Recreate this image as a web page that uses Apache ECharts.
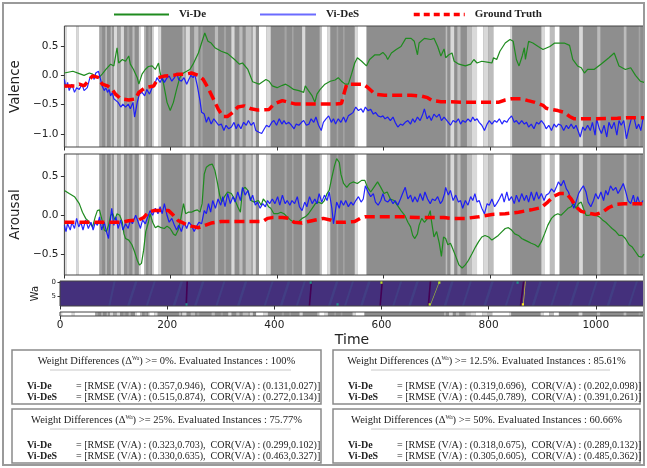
<!DOCTYPE html>
<html><head><meta charset="utf-8">
<script src="https://cdn.jsdelivr.net/npm/echarts@6/dist/echarts.min.js"></script>
<style>html,body{margin:0;padding:0;background:#fff}#c{width:647px;height:468px}</style>
</head><body><div id="c"></div>
<script>
const T_MIN = 0, T_MAX = 1090;
const timeTicks = [0, 200, 400, 600, 800, 1000];
const valenceTicks = [-1.0, -0.5, 0.0, 0.5];
const arousalTicks = [-0.5, 0.0, 0.5];
const waTicks = [0, 5];
const WA_ROWS = 9;

// Valence
const valDe = [[0,0.04],[16,0.07],[28,0.03],[37,0.0],[47,0.04],[53,0.02],[59,-0.01],[65,-0.04],[71,0.02],[78,0.10],[87,0.19],[93,0.16],[99,0.47],[102,0.21],[109,0.27],[115,0.24],[121,0.33],[124,0.19],[130,0.10],[137,-0.04],[140,-0.15],[146,0.02],[152,0.10],[158,0.15],[165,0.16],[171,0.10],[177,0.21],[180,0.04],[186,-0.12],[193,-0.46],[199,-0.60],[205,-0.46],[211,-0.24],[217,-0.04],[224,0.04],[230,0.07],[236,0.10],[242,0.19],[252,0.38],[258,0.55],[264,0.72],[270,0.58],[276,0.55],[283,0.47],[295,0.41],[307,0.37],[320,0.27],[329,0.19],[335,0.21],[345,0.10],[354,-0.11],[366,-0.15],[379,-0.07],[385,-0.10],[391,-0.18],[400,-0.21],[410,-0.17],[416,-0.15],[422,-0.18],[431,-0.24],[441,-0.26],[450,-0.29],[453,-0.18],[459,-0.26],[466,-0.35],[471,-0.46],[475,-0.32],[481,-0.24],[490,-0.15],[500,-0.10],[509,-0.08],[515,-0.04],[521,-0.10],[528,-0.15],[534,-0.15],[540,0.02],[546,0.21],[551,0.30],[559,0.24],[568,0.16],[574,0.27],[584,0.35],[593,0.35],[599,0.39],[605,0.33],[608,0.27],[615,0.38],[624,0.44],[633,0.49],[642,0.63],[652,0.63],[658,0.58],[664,0.35],[667,0.55],[677,0.63],[689,0.61],[695,0.63],[702,0.49],[708,0.33],[714,0.45],[717,0.30],[723,0.35],[729,0.38],[733,0.24],[742,0.19],[754,0.16],[764,0.19],[770,0.27],[776,0.21],[785,0.24],[798,0.22],[804,0.21],[807,0.30],[813,0.27],[819,0.41],[829,0.55],[838,0.61],[844,0.58],[850,0.27],[855,0.16],[861,0.33],[865,0.47],[867,0.27],[873,0.58],[881,0.55],[891,0.49],[900,0.44],[913,0.49],[922,0.55],[940,0.55],[950,0.51],[956,0.27],[965,0.16],[972,0.13],[978,0.04],[984,0.10],[996,0.10],[1009,0.19],[1024,0.30],[1034,0.38],[1043,0.16],[1055,0.10],[1065,0.13],[1074,0.0],[1083,-0.10],[1090,-0.12]];
const valDeS = [[0,-0.07],[3,-0.21],[6,-0.12],[9,-0.26],[14,-0.15],[19,-0.29],[23,-0.21],[28,-0.24],[33,-0.15],[37,-0.26],[43,-0.21],[48,-0.04],[53,0.0],[56,-0.07],[59,0.04],[64,0.07],[68,-0.07],[71,-0.18],[75,-0.26],[78,-0.21],[81,-0.29],[84,-0.24],[87,-0.35],[90,-0.29],[93,-0.40],[96,-0.38],[101,-0.46],[106,-0.54],[110,-0.49],[115,-0.54],[120,-0.49],[124,-0.57],[129,-0.46],[132,-0.71],[137,-0.46],[141,-0.32],[146,-0.29],[151,-0.35],[155,-0.24],[160,-0.32],[165,-0.21],[170,-0.15],[174,-0.04],[177,-0.01],[180,-0.12],[184,-0.04],[188,-0.12],[193,-0.04],[197,-0.01],[202,-0.10],[207,-0.04],[211,0.04],[215,-0.07],[220,-0.10],[225,-0.04],[230,-0.15],[234,-0.07],[238,0.0],[242,-0.04],[245,0.02],[250,-0.18],[255,-0.43],[258,-0.63],[263,-0.66],[267,-0.80],[271,-0.71],[276,-0.83],[281,-0.74],[286,-0.80],[290,-0.85],[295,-0.83],[300,-0.94],[304,-0.85],[309,-0.91],[314,-0.88],[319,-0.80],[323,-0.91],[327,-0.83],[332,-0.91],[337,-0.80],[342,-0.85],[346,-0.77],[351,-0.85],[356,-0.80],[360,-0.94],[366,-0.97],[371,-0.99],[376,-0.91],[380,-0.85],[385,-0.88],[390,-0.80],[394,-0.77],[399,-0.85],[404,-0.74],[409,-0.83],[413,-0.77],[417,-0.83],[422,-0.80],[427,-0.85],[432,-0.91],[436,-0.83],[441,-0.85],[446,-0.80],[450,-0.77],[455,-0.85],[460,-0.83],[464,-0.74],[469,-0.80],[473,-0.71],[478,-0.85],[483,-0.94],[487,-0.80],[492,-0.74],[497,-0.69],[502,-0.80],[506,-0.74],[510,-0.83],[515,-0.74],[520,-0.80],[525,-0.71],[529,-0.80],[534,-0.69],[539,-0.66],[543,-0.63],[548,-0.54],[553,-0.60],[558,-0.57],[562,-0.63],[566,-0.54],[571,-0.60],[576,-0.58],[581,-0.66],[585,-0.63],[590,-0.69],[595,-0.71],[599,-0.69],[603,-0.74],[608,-0.71],[613,-0.77],[618,-0.71],[622,-0.80],[627,-0.88],[632,-0.83],[636,-0.85],[641,-0.80],[646,-0.77],[651,-0.83],[655,-0.74],[659,-0.80],[664,-0.71],[669,-0.77],[674,-0.66],[677,-0.57],[682,-0.74],[686,-0.69],[690,-0.77],[695,-0.66],[700,-0.71],[705,-0.66],[709,-0.77],[714,-0.71],[717,-0.74],[722,-0.80],[726,-0.85],[731,-0.77],[736,-0.80],[741,-0.74],[745,-0.83],[749,-0.77],[754,-0.80],[759,-0.74],[764,-0.79],[768,-0.71],[772,-0.77],[776,-0.74],[780,-0.80],[785,-0.85],[790,-0.94],[795,-0.83],[799,-0.77],[804,-0.83],[809,-0.77],[813,-0.80],[818,-0.74],[823,-0.83],[827,-0.77],[832,-0.80],[836,-0.74],[841,-0.69],[846,-0.80],[850,-0.77],[855,-0.83],[860,-0.77],[865,-0.83],[869,-0.80],[873,-0.88],[878,-0.83],[883,-0.91],[888,-0.80],[892,-0.83],[897,-0.77],[902,-0.83],[906,-0.91],[911,-0.85],[916,-0.94],[921,-0.83],[925,-0.88],[929,-0.83],[934,-0.85],[939,-0.94],[944,-0.85],[948,-0.91],[953,-0.83],[958,-0.91],[962,-0.85],[967,-0.97],[970,-1.05],[975,-0.88],[979,-0.94],[984,-0.85],[989,-0.94],[993,-0.80],[998,-1.02],[1001,-0.74],[1006,-0.91],[1010,-0.99],[1015,-0.85],[1020,-1.05],[1024,-0.80],[1029,-0.91],[1034,-0.80],[1039,-1.02],[1043,-0.77],[1047,-0.85],[1052,-0.77],[1057,-1.08],[1062,-0.88],[1066,-0.74],[1071,-0.71],[1076,-0.91],[1080,-0.83],[1084,-0.94],[1088,-0.74]];
const valGT = [[0,-0.18],[19,-0.18],[28,-0.15],[37,-0.18],[47,-0.07],[53,-0.01],[65,-0.04],[71,-0.15],[81,-0.18],[90,-0.24],[96,-0.32],[106,-0.40],[121,-0.42],[134,-0.40],[140,-0.29],[152,-0.21],[168,-0.18],[177,-0.04],[189,-0.01],[205,0.0],[214,0.02],[227,0.02],[239,0.04],[252,0.0],[261,-0.07],[270,-0.21],[280,-0.40],[289,-0.57],[298,-0.70],[307,-0.70],[317,-0.63],[326,-0.54],[338,-0.52],[351,-0.57],[363,-0.59],[385,-0.58],[394,-0.49],[410,-0.43],[422,-0.46],[435,-0.49],[453,-0.49],[478,-0.49],[503,-0.49],[521,-0.48],[528,-0.24],[531,-0.15],[546,-0.15],[562,-0.15],[571,-0.21],[584,-0.32],[602,-0.34],[627,-0.34],[652,-0.34],[670,-0.35],[683,-0.38],[692,-0.43],[708,-0.45],[726,-0.45],[754,-0.46],[791,-0.46],[816,-0.46],[829,-0.42],[841,-0.40],[860,-0.40],[872,-0.43],[885,-0.46],[900,-0.51],[906,-0.56],[916,-0.58],[928,-0.60],[940,-0.63],[950,-0.70],[959,-0.74],[996,-0.74],[1040,-0.73],[1065,-0.72],[1090,-0.72]];

// Arousal
const aroDe = [[0,0.32],[9,0.28],[19,0.24],[28,0.15],[34,0.04],[40,-0.04],[47,-0.09],[53,-0.15],[58,-0.02],[62,0.06],[66,0.07],[70,-0.04],[75,-0.19],[79,-0.21],[83,-0.13],[87,0.0],[91,0.02],[95,-0.06],[99,0.02],[104,0.0],[109,-0.09],[112,-0.24],[115,-0.30],[121,-0.32],[127,-0.38],[132,-0.47],[137,-0.58],[141,-0.64],[145,-0.62],[149,-0.45],[153,-0.21],[158,-0.09],[161,0.02],[166,-0.09],[171,-0.16],[176,-0.14],[182,-0.16],[188,-0.17],[193,-0.14],[199,-0.17],[205,-0.24],[209,-0.26],[214,-0.19],[219,-0.04],[224,0.15],[228,0.02],[233,0.04],[239,0.04],[245,0.06],[250,0.07],[255,0.04],[259,0.15],[263,0.53],[267,0.62],[273,0.65],[278,0.66],[283,0.58],[288,0.41],[292,0.26],[296,0.17],[301,0.24],[307,0.30],[314,0.28],[320,0.21],[326,0.11],[331,0.04],[335,0.34],[340,0.36],[345,0.32],[351,0.19],[357,0.17],[365,0.19],[370,0.13],[374,0.21],[379,0.17],[384,0.11],[388,0.09],[394,0.02],[401,0.02],[407,0.04],[413,0.02],[419,-0.02],[425,-0.06],[432,-0.09],[441,-0.08],[447,-0.04],[453,-0.02],[459,0.02],[466,0.09],[472,0.15],[478,0.17],[484,0.15],[489,0.19],[494,0.28],[498,0.32],[503,0.49],[508,0.64],[512,0.73],[517,0.68],[520,0.53],[525,0.41],[531,0.36],[537,0.41],[543,0.43],[551,0.41],[559,0.45],[565,0.45],[570,0.36],[576,0.30],[582,0.36],[589,0.43],[595,0.36],[601,0.28],[607,0.30],[613,0.21],[620,0.19],[626,0.13],[633,0.06],[640,0.0],[646,-0.09],[651,-0.15],[655,-0.26],[659,-0.30],[664,-0.24],[667,-0.13],[672,-0.04],[677,-0.09],[683,-0.04],[688,0.06],[690,-0.06],[695,-0.28],[700,-0.21],[705,-0.36],[709,-0.53],[713,-0.28],[717,-0.30],[721,-0.38],[726,-0.36],[729,-0.41],[736,-0.53],[742,-0.64],[748,-0.68],[754,-0.64],[760,-0.58],[767,-0.49],[773,-0.41],[779,-0.34],[785,-0.28],[791,-0.26],[798,-0.28],[804,-0.32],[810,-0.29],[816,-0.26],[823,-0.21],[829,-0.17],[835,-0.16],[841,-0.19],[847,-0.24],[854,-0.26],[860,-0.30],[866,-0.32],[872,-0.34],[878,-0.36],[885,-0.38],[891,-0.41],[897,-0.34],[903,-0.24],[909,-0.13],[916,-0.04],[922,0.0],[928,0.02],[934,0.0],[940,0.04],[947,0.09],[953,0.11],[958,0.15],[962,0.09],[967,0.15],[972,0.17],[976,0.09],[981,0.0],[987,0.0],[993,0.02],[999,0.0],[1006,-0.02],[1012,-0.06],[1018,-0.09],[1024,-0.13],[1030,-0.17],[1037,-0.21],[1043,-0.26],[1049,-0.26],[1055,-0.30],[1062,-0.38],[1068,-0.41],[1074,-0.47],[1080,-0.53],[1086,-0.54],[1090,-0.50]];
const aroDeS = [[0,-0.13],[3,-0.21],[6,-0.11],[11,-0.19],[14,-0.09],[19,-0.17],[23,-0.04],[27,-0.15],[31,-0.09],[35,-0.19],[40,-0.06],[45,-0.17],[50,-0.09],[54,-0.19],[58,-0.09],[62,-0.13],[66,-0.02],[70,-0.19],[75,-0.09],[79,-0.21],[83,-0.30],[85,-0.15],[89,0.09],[93,-0.13],[97,-0.02],[101,-0.17],[106,-0.06],[110,-0.19],[115,-0.11],[120,-0.17],[124,-0.06],[128,-0.11],[134,0.0],[139,-0.09],[143,-0.17],[147,-0.06],[152,-0.11],[157,-0.02],[161,0.06],[166,0.0],[171,0.09],[176,0.02],[180,0.11],[184,0.02],[188,0.15],[193,0.0],[197,-0.09],[202,-0.04],[207,-0.13],[211,-0.19],[215,-0.13],[220,-0.21],[225,-0.09],[230,-0.17],[234,-0.09],[239,-0.13],[244,-0.21],[248,-0.15],[253,-0.09],[258,-0.11],[263,0.06],[267,0.02],[271,0.15],[275,0.04],[279,0.19],[284,0.09],[289,0.21],[294,0.13],[298,0.24],[302,0.11],[307,0.28],[312,0.15],[317,0.24],[321,0.17],[326,0.30],[331,0.19],[335,0.36],[340,0.26],[345,0.32],[350,0.19],[354,0.26],[359,0.13],[363,0.17],[368,0.09],[373,0.15],[378,0.11],[382,0.19],[386,0.15],[391,0.21],[396,0.15],[401,0.24],[405,0.13],[410,0.26],[415,0.15],[419,0.19],[424,0.13],[428,0.19],[433,0.15],[438,0.24],[442,0.11],[447,0.06],[452,0.17],[456,0.11],[461,0.24],[466,0.15],[471,0.21],[475,0.15],[479,0.28],[484,0.17],[489,0.26],[494,0.19],[498,0.30],[503,0.09],[506,-0.11],[509,0.02],[512,0.17],[517,0.09],[520,0.19],[525,0.13],[529,0.19],[534,0.11],[539,0.17],[543,0.13],[548,0.19],[553,0.24],[558,0.17],[562,0.21],[566,0.38],[571,0.30],[576,0.24],[581,0.28],[585,0.17],[590,0.13],[595,0.19],[599,0.28],[603,0.19],[608,0.17],[613,0.21],[618,0.15],[622,0.19],[627,0.13],[632,0.21],[636,0.28],[641,0.36],[646,0.21],[651,0.26],[655,0.17],[659,0.24],[664,0.17],[669,0.28],[674,0.19],[678,0.30],[683,0.21],[688,0.15],[692,0.21],[697,0.19],[702,0.24],[707,0.15],[711,0.19],[715,0.28],[717,0.36],[722,0.26],[726,0.32],[731,0.19],[736,0.26],[741,0.17],[745,0.19],[749,0.09],[754,0.19],[759,0.13],[764,0.24],[768,0.19],[772,0.28],[776,0.17],[780,0.19],[785,0.09],[790,0.02],[795,0.15],[799,0.13],[804,0.21],[809,0.11],[813,0.15],[818,0.21],[823,0.28],[827,0.17],[832,0.30],[836,0.19],[841,0.24],[846,0.15],[850,0.26],[855,0.17],[860,0.28],[865,0.19],[869,0.26],[873,0.17],[878,0.30],[883,0.19],[888,0.30],[892,0.21],[897,0.28],[902,0.19],[906,0.26],[911,0.28],[916,0.34],[921,0.30],[925,0.36],[929,0.43],[934,0.38],[939,0.45],[944,0.34],[948,0.30],[953,0.19],[958,0.09],[962,0.17],[967,0.28],[972,0.34],[976,0.38],[981,0.30],[985,0.17],[990,0.11],[995,0.19],[999,0.28],[1004,0.21],[1009,0.30],[1014,0.19],[1018,0.32],[1022,0.26],[1027,0.38],[1032,0.32],[1037,0.36],[1041,0.28],[1046,0.34],[1051,0.41],[1055,0.32],[1060,0.19],[1065,0.15],[1070,0.26],[1074,0.13],[1078,0.24],[1083,0.13],[1088,0.19]];
const aroGT = [[0,-0.09],[22,-0.09],[53,-0.09],[84,-0.09],[109,-0.09],[121,-0.07],[140,-0.06],[149,-0.03],[158,0.04],[168,0.06],[183,0.06],[196,0.06],[205,0.0],[214,-0.07],[227,-0.11],[239,-0.14],[252,-0.16],[264,-0.13],[276,-0.10],[295,-0.08],[314,-0.08],[338,-0.08],[363,-0.08],[373,-0.08],[382,-0.04],[391,-0.03],[410,-0.03],[422,-0.04],[432,-0.09],[447,-0.10],[459,-0.08],[472,-0.06],[487,-0.04],[500,-0.06],[509,-0.09],[528,-0.09],[546,-0.08],[556,-0.04],[565,-0.02],[590,-0.02],[615,-0.02],[640,-0.02],[664,-0.03],[689,-0.03],[714,-0.03],[726,-0.04],[754,-0.04],[779,-0.02],[804,0.01],[829,0.02],[854,0.04],[878,0.07],[897,0.10],[909,0.17],[919,0.24],[931,0.28],[944,0.28],[953,0.21],[962,0.11],[972,0.05],[984,0.03],[999,0.01],[1012,0.04],[1024,0.10],[1037,0.14],[1052,0.15],[1071,0.15],[1090,0.15]];

// Evaluation mask bands: [start, end, shade]  (0 white .. 3 mid grey)
const maskSegments = [[0,4,1],[4,22,0],[22,27,1],[27,66,0],[66,71,3],[77,80,2],[87,90,2],[93,99,1],[99,106,3],[106,112,1],[118,122,3],[128,132,2],[140,143,1],[143,150,0],[150,153,2],[158,162,3],[165,168,1],[168,176,0],[176,182,1],[222,226,2],[228,236,1],[244,252,2],[256,260,3],[283,289,2],[300,304,3],[314,320,1],[329,335,2],[341,352,2],[354,360,1],[366,380,0],[380,388,1],[414,418,3],[428,431,3],[447,453,1],[480,484,2],[484,494,0],[494,500,1],[512,515,3],[524,527,3],[546,552,1],[552,568,0],[717,720,2],[726,733,1],[739,745,2],[757,766,2],[766,776,1],[776,788,0],[788,797,1],[797,807,2],[807,838,0],[838,842,1],[897,903,1],[903,913,0],[913,922,2],[922,931,0],[968,975,1],[1002,1008,2],[1052,1057,2],[1080,1083,3]];

// Wa weight map: streaks [t at bottom row, t at top row, width, level], dots [t, row, level]
const waStreaks = [[90,100,4,1],[125,140,5,1],[160,175,4,1],[210,225,5,1],[234,236,3,0],[250,265,5,1],[290,305,4,1],[330,345,5,1],[380,395,4,1],[410,425,5,1],[440,455,4,1],[464,468,3,0],[500,515,5,1],[530,545,4,1],[560,575,5,1],[596,600,3,0],[620,635,4,1],[650,665,5,1],[686,690,3,0],[690,708,1.2,5],[716,730,5,1],[750,765,4,1],[790,805,5,1],[830,845,4,1],[858,864,3,0],[864,868,1.2,6],[880,895,5,1],[915,930,4,1],[950,965,5,1],[985,1000,4,1],[1020,1035,5,1],[1060,1075,4,1]];
const waDots = [[236,8,3],[468,0,3],[518,8,3],[600,0,5],[690,8,5],[708,0,5],[854,0,3],[864,8,6]];

// Summary boxes
const boxThresholds = ['0%', '12.5%', '25%', '50%'];
const boxEvaluated = ['100%', '85.61%', '75.77%', '60.66%'];
const rmseDe  = [[0.357,0.946],[0.319,0.696],[0.323,0.703],[0.318,0.675]];
const corDe   = [[0.131,0.027],[0.202,0.098],[0.299,0.102],[0.289,0.132]];
const rmseDeS = [[0.515,0.874],[0.445,0.789],[0.330,0.635],[0.305,0.605]];
const corDeS  = [[0.272,0.134],[0.391,0.261],[0.463,0.327],[0.485,0.362]];

const SANS = 'DejaVu Sans', SERIF = 'Liberation Serif';
const bandShades = ['#ffffff', '#d9d9d9', '#bcbcbc', '#a4a4a4'];
const BAND_BASE = '#8e8e8e';
const waPalette = ['#440154','#414487','#31688e','#21918c','#35b779','#b5de2b','#fde725'];
const WA_BASE = '#44307c';

const chart = echarts.init(document.getElementById('c'), null, {renderer: 'canvas'});

function bandRender(params, api) {
  const cs = params.coordSys;
  const x0 = api.coord([api.value(0), 0])[0];
  const x1 = api.coord([api.value(1), 0])[0];
  return {type: 'rect', shape: {x: x0, y: cs.y, width: x1 - x0, height: cs.height},
          style: {fill: api.value(2) < 0 ? BAND_BASE : bandShades[api.value(2)]}};
}
function waBaseRender(params, api) {
  const cs = params.coordSys;
  const x0 = api.coord([api.value(0), 0])[0];
  const x1 = api.coord([api.value(1), 0])[0];
  return {type: 'rect', shape: {x: x0, y: cs.y, width: x1 - x0, height: cs.height}, style: {fill: WA_BASE}};
}
function streakRender(params, api) {
  const tb = api.value(0), tt = api.value(1), w = api.value(2);
  const pts = [api.coord([tb, WA_ROWS - 0.5]), api.coord([tb + w, WA_ROWS - 0.5]),
               api.coord([tt + w, -0.5]), api.coord([tt, -0.5])];
  const lvl = api.value(3);
  return {type: 'polygon', shape: {points: pts}, style: {fill: waPalette[lvl], opacity: lvl === 1 ? 0.7 : (lvl >= 5 ? 0.85 : 1)}};
}
function dotRender(params, api) {
  const t = api.value(0), r = api.value(1);
  const a = api.coord([t - 2, r - 0.5]), b = api.coord([t + 2, r + 0.5]);
  return {type: 'rect', shape: {x: Math.min(a[0], b[0]), y: Math.min(a[1], b[1]), width: Math.abs(b[0] - a[0]), height: Math.abs(b[1] - a[1])},
          style: {fill: waPalette[api.value(2)]}};
}

const minus = v => (v < 0 ? '\u2212' + Math.abs(v).toFixed(1) : v.toFixed(1));
const tickLabel = {fontFamily: SANS, fontSize: 10.5, color: '#222'};

const gridBoxes = [
  {top: 26, height: 121}, {top: 154, height: 121}, {top: 281, height: 25}, {top: 312, height: 4}
];
const grids = gridBoxes.map(g => ({left: 60, width: 584, top: g.top, height: g.height, show: true,
  backgroundColor: 'transparent', borderColor: '#444', borderWidth: 1, containLabel: false}));

const xAxes = grids.map((g, i) => ({
  gridIndex: i, type: 'value', min: T_MIN, max: T_MAX, interval: 200, position: 'bottom',
  splitLine: {show: false}, axisLine: {show: false, onZero: false},
  axisTick: {show: true, length: 3.5, customValues: timeTicks, lineStyle: {color: '#333'}},
  axisLabel: Object.assign({show: i === 3, customValues: timeTicks, margin: 4, formatter: v => String(v)}, tickLabel),
  name: i === 3 ? 'Time' : '', nameLocation: 'middle', nameGap: 17,
  nameTextStyle: {fontFamily: SANS, fontSize: 14, color: '#222'}
}));

const yName = {fontFamily: SANS, fontSize: 13.5, color: '#222'};
const yAxes = [
  {gridIndex: 0, type: 'value', min: -1.22, max: 0.84, name: 'Valence', nameLocation: 'middle', nameGap: 35, nameTextStyle: yName,
   splitLine: {show: false}, axisLine: {show: false, onZero: false},
   axisTick: {show: true, length: 3.5, customValues: valenceTicks, lineStyle: {color: '#333'}},
   axisLabel: Object.assign({customValues: valenceTicks, formatter: minus, margin: 6}, tickLabel)},
  {gridIndex: 1, type: 'value', min: -0.77, max: 0.79, name: 'Arousal', nameLocation: 'middle', nameGap: 35, nameTextStyle: yName,
   splitLine: {show: false}, axisLine: {show: false, onZero: false},
   axisTick: {show: true, length: 3.5, customValues: arousalTicks, lineStyle: {color: '#333'}},
   axisLabel: Object.assign({customValues: arousalTicks, formatter: minus, margin: 6}, tickLabel)},
  {gridIndex: 2, type: 'value', min: -0.5, max: WA_ROWS - 0.5, inverse: true, name: 'Wa', nameLocation: 'middle', nameGap: 17,
   nameTextStyle: {fontFamily: SANS, fontSize: 10, color: '#222'},
   splitLine: {show: false}, axisLine: {show: false, onZero: false},
   axisTick: {show: true, length: 2.5, customValues: waTicks, lineStyle: {color: '#333'}},
   axisLabel: {customValues: waTicks, margin: 4, fontFamily: SANS, fontSize: 7, color: '#222'}},
  {gridIndex: 3, type: 'value', min: 0, max: 1, show: false}
];

const bandData = [[T_MIN, T_MAX, -1]].concat(maskSegments);
const bandSeries = [0, 1, 3].map(gi => ({
  type: 'custom', name: 'mask' + gi, xAxisIndex: gi, yAxisIndex: gi, z: -1, silent: true,
  renderItem: bandRender, data: bandData, encode: {x: [0, 1]}, animation: false
}));

const lineBase = {type: 'line', symbol: 'none', showSymbol: false, animation: false};
const greenStyle = {color: '#1f8b1f', width: 1.2};
const blueStyle = {color: '#1010ff', width: 1.2, opacity: 0.9};
const redStyle = {color: '#ff0000', width: 3.5, type: [10, 5]};

const series = bandSeries.concat([
  {type: 'custom', name: 'waBase', xAxisIndex: 2, yAxisIndex: 2, z: -1, silent: true, renderItem: waBaseRender, data: [[T_MIN, T_MAX]], encode: {x: [0, 1]}, animation: false},
  {type: 'custom', name: 'waStreaks', xAxisIndex: 2, yAxisIndex: 2, z: -1, silent: true, renderItem: streakRender, data: waStreaks, encode: {x: [0, 1]}, animation: false},
  {type: 'custom', name: 'waDots', xAxisIndex: 2, yAxisIndex: 2, z: -1, silent: true, renderItem: dotRender, data: waDots, encode: {x: 0, y: 1}, animation: false},
  Object.assign({name: 'Vi-De', xAxisIndex: 0, yAxisIndex: 0, data: valDe, lineStyle: greenStyle, itemStyle: {color: greenStyle.color}, z: 3}, lineBase),
  Object.assign({name: 'Vi-DeS', xAxisIndex: 0, yAxisIndex: 0, data: valDeS, lineStyle: blueStyle, itemStyle: {color: blueStyle.color}, z: 4}, lineBase),
  Object.assign({name: 'Ground Truth', xAxisIndex: 0, yAxisIndex: 0, data: valGT, lineStyle: redStyle, itemStyle: {color: redStyle.color}, z: 5}, lineBase),
  Object.assign({name: 'Vi-De', xAxisIndex: 1, yAxisIndex: 1, data: aroDe, lineStyle: greenStyle, itemStyle: {color: greenStyle.color}, z: 3}, lineBase),
  Object.assign({name: 'Vi-DeS', xAxisIndex: 1, yAxisIndex: 1, data: aroDeS, lineStyle: blueStyle, itemStyle: {color: blueStyle.color}, z: 4}, lineBase),
  Object.assign({name: 'Ground Truth', xAxisIndex: 1, yAxisIndex: 1, data: aroGT, lineStyle: redStyle, itemStyle: {color: redStyle.color}, z: 5}, lineBase)
]);

const legendText = {fontFamily: SERIF, fontWeight: 'bold', fontSize: 11, color: '#222', padding: [0, 0, 0, 5]};
const legends = [
  {data: ['Vi-De'], left: 113, itemWidth: 55, lineStyle: {width: 2}},
  {data: ['Vi-DeS'], left: 259, itemWidth: 56, lineStyle: {width: 2, color: '#5b5bff'}},
  {data: ['Ground Truth'], left: 412, itemWidth: 51, lineStyle: {width: 3.5, type: [6, 4]}}
].map(l => Object.assign({top: 9, itemHeight: 12, padding: 0, selectedMode: false, textStyle: legendText,
  itemStyle: {opacity: 0, borderWidth: 0}}, l));

// Summary boxes as graphic elements
const boxPos = [[12, 350, 309, 54], [333, 350, 307, 54], [12, 409, 309, 54], [333, 409, 307, 54]];
const f3 = v => v.toFixed(3);
const rowText = (r, c) => '= [RMSE (V/A) : (' + f3(r[0]) + ',' + f3(r[1]) + '),  COR(V/A) : (' + f3(c[0]) + ',' + f3(c[1]) + ')]';
const graphics = [{type: 'rect', shape: {x: 3, y: 3, width: 641, height: 462}, style: {fill: 'none', stroke: '#9a9a9a', lineWidth: 2}, silent: true}];
boxPos.forEach((b, i) => {
  const [x, y, w, h] = b;
  graphics.push({type: 'rect', shape: {x: x, y: y, width: w, height: h}, style: {fill: '#fff', stroke: '#8a8a8a', lineWidth: 1.5}, silent: true});
  graphics.push({type: 'text', x: x + w / 2, y: y + 11, silent: true, style: {
    text: '{n|Weight Differences (\u0394}{s|Wa}{n|) >= ' + boxThresholds[i] + '. Evaluated Instances : ' + boxEvaluated[i] + '}',
    align: 'center', verticalAlign: 'middle',
    rich: {n: {fontFamily: SERIF, fontSize: 10.5, fill: '#222'}, s: {fontFamily: SERIF, fontSize: 5.5, fill: '#222', verticalAlign: 'top'}}
  }});
  graphics.push({type: 'line', shape: {x1: x + 38, y1: y + 20, x2: x + w - 30, y2: y + 20}, style: {stroke: '#c8c8c8', lineWidth: 1}, silent: true});
  [['Vi-De', rmseDe[i], corDe[i]], ['Vi-DeS', rmseDeS[i], corDeS[i]]].forEach((row, k) => {
    const ry = y + 36 + k * 11.5;
    graphics.push({type: 'text', x: x + 15, y: ry, silent: true, style: {text: row[0], fontFamily: SERIF, fontWeight: 'bold', fontSize: 10, fill: '#222', verticalAlign: 'middle'}});
    graphics.push({type: 'text', x: x + 64, y: ry, silent: true, style: {text: rowText(row[1], row[2]), fontFamily: SERIF, fontSize: 10, fill: '#222', verticalAlign: 'middle'}});
  });
});

chart.setOption({
  animation: false,
  backgroundColor: '#ffffff',
  grid: grids,
  xAxis: xAxes,
  yAxis: yAxes,
  legend: legends,
  series: series,
  graphic: graphics
});
</script></body></html>
